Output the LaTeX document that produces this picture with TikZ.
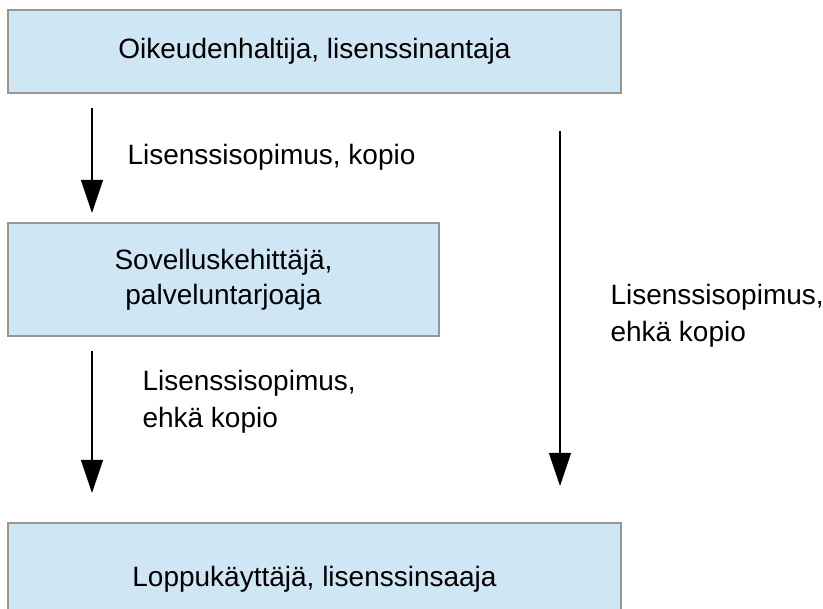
\documentclass[tikz,border=0pt]{standalone}
\usepackage{fontspec}
\setmainfont{Liberation Sans}
\usetikzlibrary{arrows.meta}
\definecolor{boxblue}{RGB}{207,230,244}
\definecolor{boxline}{RGB}{150,150,150}
\begin{document}
\begin{tikzpicture}[x=1pt,y=-1pt,font=\fontsize{28}{37}\selectfont,
    box/.style={draw=boxline, fill=boxblue, line width=1.5pt, align=center, inner sep=0pt},
    arr/.style={draw, line width=1.2pt, -{Triangle[width=22pt,length=33pt]}}]
        \useasboundingbox (0,0) rectangle (823,609);
        \clip (0,0) rectangle (823,609);
        \node[box, minimum width=613pt, minimum height=83pt] (owner) at (314.5,51.5) {Oikeudenhaltija, lisenssinantaja};
        \node[box, minimum width=431pt, minimum height=113pt, font=\fontsize{28}{35}\selectfont] (dev) at (223.5,279.5) {Sovelluskehittäjä,\\palveluntarjoaja};
        \node[box, minimum width=613pt, minimum height=113pt] (user) at (314.5,579.5) {Loppukäyttäjä, lisenssinsaaja};
        \coordinate (a1) at (92,108);
        \coordinate (b1) at (92,213);
        \coordinate (a2) at (92,351);
        \coordinate (b2) at (92,493);
        \coordinate (a3) at (560,131);
        \coordinate (b3) at (560,486);
        \node[anchor=west] (l1) at (124,157) {Lisenssisopimus, kopio};
        \node[anchor=west, align=left] (l2) at (139,402) {Lisenssisopimus,\\ehkä kopio};
        \node[anchor=west, align=left] (l3) at (607,316) {Lisenssisopimus,\\ehkä kopio};
        \path[arr] (a1) -- (b1);
        \path[arr] (a2) -- (b2);
        \path[arr] (a3) -- (b3);
    \end{tikzpicture}
\end{document}
